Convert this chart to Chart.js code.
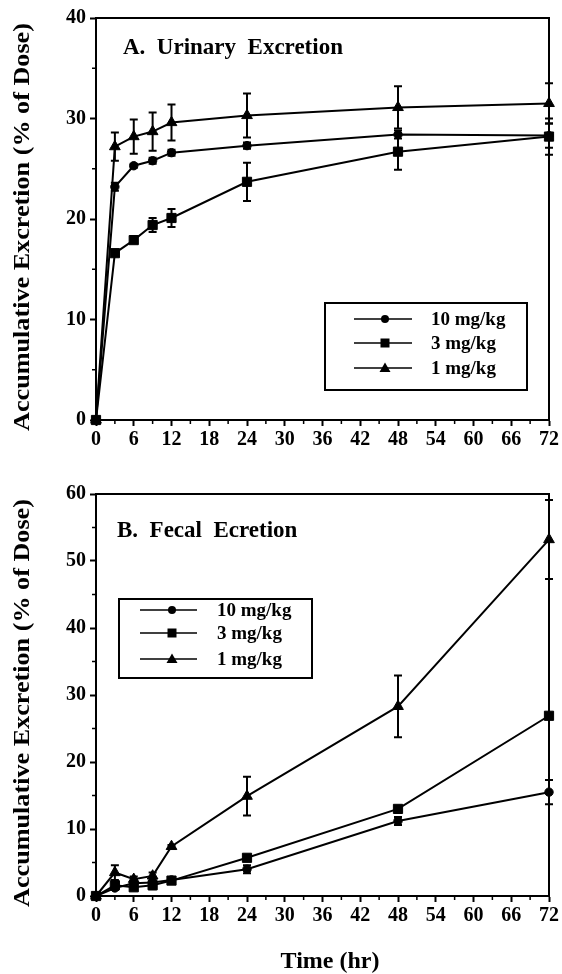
<!DOCTYPE html>
<html><head><meta charset="utf-8">
<script src="https://cdn.jsdelivr.net/npm/chart.js@4.4.1/dist/chart.umd.min.js"></script>
<style>
html,body{margin:0;padding:0;background:#fff;}
#wrapA{position:absolute;left:0;top:0;width:562px;height:470px;}
#wrapB{position:absolute;left:0;top:470px;width:562px;height:504px;}
canvas{display:block;}
</style></head><body>
<div id="wrapA"><canvas id="cA" width="562" height="470"></canvas></div>
<div id="wrapB"><canvas id="cB" width="562" height="504"></canvas></div>
<script>
// ---- data ----
const timeHr = [0, 3, 6, 9, 12, 24, 48, 72];
const xTickValues = [0, 6, 12, 18, 24, 30, 36, 42, 48, 54, 60, 66, 72];
const seriesLabels = ['10 mg/kg', '3 mg/kg', '1 mg/kg'];

const urinary10 = [0, 23.2, 25.3, 25.8, 26.6, 27.3, 28.4, 28.3];
const urinary10Err = [0, 0.4, 0.2, 0.3, 0.3, 0.3, 0.4, 1.2];
const urinary3 = [0, 16.6, 17.9, 19.4, 20.1, 23.7, 26.7, 28.2];
const urinary3Err = [0, 0.2, 0.3, 0.7, 0.9, 1.9, 1.8, 1.8];
const urinary1 = [0, 27.2, 28.2, 28.7, 29.6, 30.3, 31.1, 31.5];
const urinary1Err = [0, 1.4, 1.7, 1.9, 1.8, 2.2, 2.1, 2.0];

const fecal10 = [0, 1.2, 1.9, 2.0, 2.4, 4.0, 11.2, 15.5];
const fecal10Err = [0, 0.3, 0.3, 0.3, 0.2, 0.6, 0.6, 1.8];
const fecal3 = [0, 1.6, 1.3, 1.6, 2.3, 5.7, 13.0, 26.9];
const fecal3Err = [0, 0.4, 0.4, 0.6, 0.2, 0.4, 0.3, 0.3];
const fecal1 = [0, 3.5, 2.5, 3.0, 7.4, 14.9, 28.3, 53.2];
const fecal1Err = [0, 1.1, 0.4, 0.5, 0.2, 2.9, 4.6, 5.9];

const yTicksA = [0, 10, 20, 30, 40];
const yTicksB = [0, 10, 20, 30, 40, 50, 60];
const yAxisTitle = 'Accumulative Excretion (% of Dose)';
const xAxisTitle = 'Time (hr)';

// ---- styles ----
const FONT = 'Liberation Serif, Times New Roman, serif';
Chart.defaults.font.family = FONT;
Chart.defaults.font.weight = 'bold';
Chart.defaults.color = '#000';
const markerStyles = ['circle', 'rect', 'triangle'];
const markerRadii = [4.2, 6.5, 6.2];

function makeDatasets(vals, errs) {
  return vals.map((v, i) => ({
    label: seriesLabels[i],
    data: timeHr.map((t, j) => ({ x: t, y: v[j] })),
    errors: errs[i],
    showLine: true,
    borderColor: '#000',
    backgroundColor: '#000',
    borderWidth: 2,
    pointStyle: markerStyles[i],
    pointRadius: markerRadii[i],
    pointBorderWidth: 1,
    pointBackgroundColor: '#000',
    pointBorderColor: '#000',
    tension: 0,
    clip: false
  }));
}

const errorBars = {
  id: 'errorBars',
  afterDatasetsDraw(chart) {
    const ctx = chart.ctx, xs = chart.scales.x, ys = chart.scales.y;
    ctx.save();
    ctx.strokeStyle = '#000';
    ctx.lineWidth = 2;
    chart.data.datasets.forEach(ds => {
      ds.data.forEach((p, j) => {
        const e = ds.errors[j];
        if (!e) return;
        const x = xs.getPixelForValue(p.x);
        const yt = ys.getPixelForValue(p.y + e);
        const yb = ys.getPixelForValue(p.y - e);
        ctx.beginPath();
        ctx.moveTo(x, yt); ctx.lineTo(x, yb);
        ctx.moveTo(x - 4, yt); ctx.lineTo(x + 4, yt);
        ctx.moveTo(x - 4, yb); ctx.lineTo(x + 4, yb);
        ctx.stroke();
      });
    });
    ctx.restore();
  }
};

function drawMarker(ctx, style, x, y) {
  ctx.beginPath();
  if (style === 'circle') ctx.arc(x, y, 4, 0, Math.PI * 2);
  else if (style === 'rect') ctx.rect(x - 4.5, y - 4.5, 9, 9);
  else { ctx.moveTo(x, y - 5.5); ctx.lineTo(x + 5.5, y + 4); ctx.lineTo(x - 5.5, y + 4); ctx.closePath(); }
  ctx.fill();
}

const decor = {
  id: 'decor',
  beforeDatasetsDraw(chart, args, opts) {
    const ctx = chart.ctx, a = chart.chartArea, xs = chart.scales.x, ys = chart.scales.y;
    ctx.save();
    ctx.strokeStyle = '#000';
    ctx.lineWidth = 2;
    ctx.strokeRect(a.left, a.top, a.right - a.left, a.bottom - a.top);
    ctx.lineWidth = 1.5;
    ctx.beginPath();
    for (let v = xs.min + 3; v < xs.max; v += 6) {
      const x = xs.getPixelForValue(v);
      ctx.moveTo(x, a.bottom); ctx.lineTo(x, a.bottom + 4);
    }
    for (let v = ys.min + 5; v < ys.max; v += 10) {
      const y = ys.getPixelForValue(v);
      ctx.moveTo(a.left, y); ctx.lineTo(a.left - 4, y);
    }
    ctx.stroke();
    ctx.restore();
  },
  afterDraw(chart, args, opts) {
    const ctx = chart.ctx, a = chart.chartArea;
    ctx.save();
    ctx.fillStyle = '#000';
    // y axis title (stretched slightly along its length like the original)
    ctx.save();
    ctx.translate(opts.yTitleX, (a.top + a.bottom) / 2 + opts.yTitleShift);
    ctx.rotate(-Math.PI / 2);
    ctx.scale(1.09, 1);
    ctx.font = 'bold 24px ' + FONT;
    ctx.textAlign = 'center';
    ctx.textBaseline = 'middle';
    ctx.fillText(yAxisTitle, 0, 0);
    ctx.restore();
    if (opts.xTitle) {
      ctx.font = 'bold 24px ' + FONT;
      ctx.textAlign = 'center';
      ctx.textBaseline = 'alphabetic';
      ctx.fillText(xAxisTitle, opts.xTitleX, opts.xTitleY);
    }
    ctx.font = 'bold 23px ' + FONT;
    ctx.textBaseline = 'alphabetic';
    ctx.textAlign = 'left';
    ctx.fillText(opts.title, opts.titleX, opts.titleY);
    const L = opts.legend;
    ctx.strokeStyle = '#000';
    ctx.lineWidth = 2;
    ctx.strokeRect(L.x1, L.y1, L.x2 - L.x1, L.y2 - L.y1);
    ctx.font = 'bold 19px ' + FONT;
    ctx.textBaseline = 'middle';
    chart.data.datasets.forEach((ds, i) => {
      const y = L.rows[i];
      ctx.beginPath();
      ctx.lineWidth = 1.5;
      ctx.moveTo(L.lineX1, y); ctx.lineTo(L.lineX2, y);
      ctx.stroke();
      drawMarker(ctx, ds.pointStyle, L.markX, y);
      ctx.fillText(ds.label, L.textX, y + 1);
    });
    ctx.restore();
  }
};

function makeOptions(yMax, yTickList, xHeight, topPad, decorOpts) {
  return {
    responsive: false,
    animation: false,
    layout: { padding: { left: 0, right: 13, top: topPad, bottom: 0 }, autoPadding: false },
    plugins: { legend: { display: false }, tooltip: { enabled: false }, decor: decorOpts },
    scales: {
      x: {
        type: 'linear', min: 0, max: 72,
        afterFit(s) { s.height = xHeight; },
        afterBuildTicks(s) { s.ticks = xTickValues.map(v => ({ value: v })); },
        ticks: { font: { size: 20, weight: 'bold' }, padding: 2, maxRotation: 0, autoSkip: false },
        grid: { display: true, drawOnChartArea: false, drawTicks: true, tickLength: 6, tickColor: '#000', tickWidth: 2 },
        border: { display: true, color: '#000', width: 2 }
      },
      y: {
        type: 'linear', min: 0, max: yMax,
        afterFit(s) { s.width = 96; },
        afterBuildTicks(s) { s.ticks = yTickList.map(v => ({ value: v })); },
        ticks: { font: { size: 20, weight: 'bold' }, padding: 4 },
        grid: { display: true, drawOnChartArea: false, drawTicks: true, tickLength: 6, tickColor: '#000', tickWidth: 2 },
        border: { display: true, color: '#000', width: 2 }
      }
    }
  };
}

new Chart(document.getElementById('cA'), {
  type: 'scatter',
  data: { datasets: makeDatasets([urinary10, urinary3, urinary1], [urinary10Err, urinary3Err, urinary1Err]) },
  options: makeOptions(40, yTicksA, 50, 18, {
    title: 'A.  Urinary  Excretion', titleX: 123, titleY: 54,
    yTitleX: 23, yTitleShift: 8, xTitle: false,
    legend: { x1: 325, y1: 303, x2: 527, y2: 390, rows: [319, 343, 368], lineX1: 354, lineX2: 412, markX: 385, textX: 431 }
  }),
  plugins: [decor, errorBars]
});

new Chart(document.getElementById('cB'), {
  type: 'scatter',
  data: { datasets: makeDatasets([fecal10, fecal3, fecal1], [fecal10Err, fecal3Err, fecal1Err]) },
  options: makeOptions(60, yTicksB, 78, 24, {
    title: 'B.  Fecal  Ecretion', titleX: 117, titleY: 67,
    yTitleX: 23, yTitleShift: 8, xTitle: true, xTitleX: 330, xTitleY: 498,
    legend: { x1: 119, y1: 129, x2: 312, y2: 208, rows: [140, 163, 189], lineX1: 140, lineX2: 197, markX: 172, textX: 217 }
  }),
  plugins: [decor, errorBars]
});
</script>
</body></html>
